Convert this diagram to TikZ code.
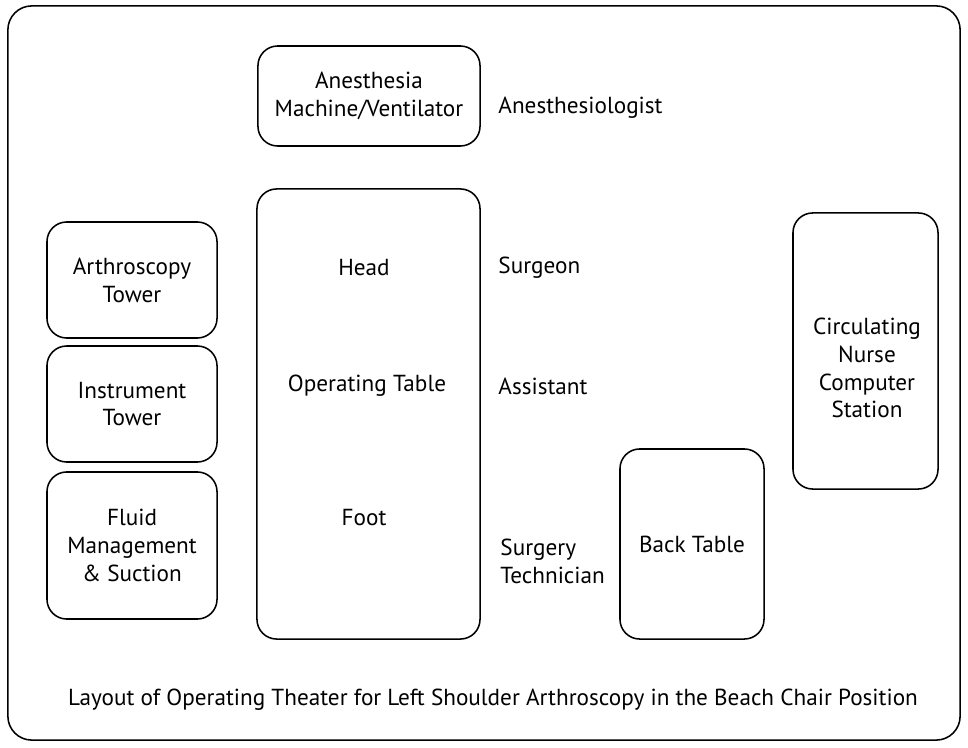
\documentclass[tikz,border=0pt]{standalone}
\usepackage{fontspec}
\setmainfont{PT Sans}
\usetikzlibrary{positioning}
\begin{document}
\begin{tikzpicture}[x=0.025cm, y=-0.025cm, line width=1.1pt,
		every node/.style={font=\fontsize{16.5}{19.8}\selectfont, align=center},
		unit/.style={draw, rounded corners=14pt, inner sep=0pt},
		who/.style={anchor=west, align=left}]
	\useasboundingbox (0,0) rectangle (968,748);
	\node[unit, rounded corners=17pt, minimum width=23.8cm, minimum height=18.35cm] (room) at (484,373) {};
	% equipment
	\node[unit, minimum width=5.55cm, minimum height=2.5cm]		(anesthesia)	at (369,96)		{Anesthesia\\Machine/Ventilator};
	\node[unit, minimum width=5.575cm, minimum height=11.25cm]	(table)			at (368.5,414)	{};
	\node[unit, minimum width=4.25cm, minimum height=2.9cm]		(arthro)		at (132,280)	{Arthroscopy\\Tower};
	\node[unit, minimum width=4.25cm, minimum height=2.9cm]		(instr)			at (132,404)	{Instrument\\Tower};
	\node[unit, minimum width=4.25cm, minimum height=3.675cm]	(fluid)			at (132,545.5)	{Fluid\\Management\\\& Suction};
	\node[unit, minimum width=3.6cm, minimum height=4.75cm]		(backtable)		at (692,544)	{Back Table};
	\node[unit, minimum width=3.625cm, minimum height=6.9cm]	(circ)			at (865.5,351)	{};
	\node (circtext)	at (867,368)	{Circulating\\Nurse\\Computer\\Station};
	% table parts
	\node (head)		at (364,268)	{Head};
	\node (optable)		at (367,386)	{Operating Table};
	\node (foot)		at (364,518)	{Foot};
	% staff
	\node[who] (anesthesiologist)	at (493,108)	{Anesthesiologist};
	\node[who] (surgeon)			at (493,268)	{Surgeon};
	\node[who] (assistant)			at (493,386)	{Assistant};
	\node[who] (technician)			at (495,561)	{Surgery\\Technician};
	\node (caption)		at (493,700)	{Layout of Operating Theater for Left Shoulder Arthroscopy in the Beach Chair Position};
\end{tikzpicture}
\end{document}
